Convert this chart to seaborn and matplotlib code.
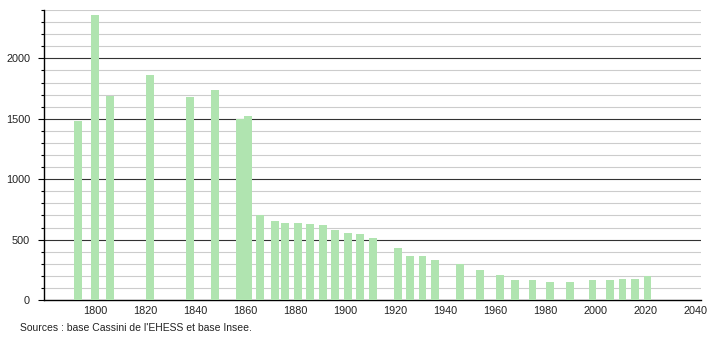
import matplotlib
matplotlib.use("Agg")
import matplotlib.pyplot as plt
import seaborn as sns
import numpy as np
import pandas as pd

years = [1793, 1800, 1806, 1822, 1838, 1848, 1858, 1861, 1866, 1872, 1876, 1881,
         1886, 1891, 1896, 1901, 1906, 1911, 1921, 1926, 1931, 1936, 1946, 1954,
         1962, 1968, 1975, 1982, 1990, 1999, 2006, 2011, 2016, 2021]
population = [1480, 2360, 1690, 1860, 1680, 1740, 1500, 1520, 700, 656, 640, 640,
              632, 623, 581, 556, 548, 515, 432, 365, 365, 332, 299, 249,
              208, 166, 166, 150, 150, 166, 166, 174, 174, 199]
x_ticks = [1800, 1820, 1840, 1860, 1880, 1900, 1920, 1940, 1960, 1980, 2000, 2020, 2040]
y_ticks = [0, 500, 1000, 1500, 2000]
source_text = "Sources : base Cassini de l'EHESS et base Insee."

df = pd.DataFrame({"year": years, "pop": population})

sns.set_style("white")
plt.rcParams["font.family"] = ["Liberation Sans", "DejaVu Sans"]

fig = plt.figure(figsize=(7.1, 3.4), dpi=100)
ax = fig.add_axes([44 / 710, 40 / 340, (701 - 44) / 710, 290 / 340])

min_gap = np.min(np.diff(sorted(years)))
sns.barplot(data=df, x="year", y="pop", native_scale=True, width=3.2 / min_gap,
            color="#b0e4b0", saturation=1, linewidth=0, errorbar=None, ax=ax, zorder=3)

ax.set_xlim(1779.6, 2042.4)
ax.set_ylim(0, 2400)
ax.set_xticks(x_ticks)
ax.set_xticklabels([str(t) for t in x_ticks])
ax.set_yticks(y_ticks)
ax.set_yticklabels([str(t) for t in y_ticks])
ax.set_yticks(np.arange(0, 2401, 100), minor=True)

ax.grid(False)
for v in np.arange(100, 2401, 100):
    if v % 500 == 0 and v < 2400:
        ax.axhline(v, color="#333333", lw=0.8, zorder=1)
    else:
        ax.axhline(v, color="#cccccc", lw=0.8, zorder=1)

ax.set_xlabel("")
ax.set_ylabel("")
for s in ["top", "right"]:
    ax.spines[s].set_visible(False)
ax.spines["left"].set_color("black")
ax.spines["bottom"].set_color("black")
ax.spines["left"].set_linewidth(1.0)
ax.spines["bottom"].set_linewidth(1.0)

ax.tick_params(axis="y", which="major", length=4, width=0.8, color="black",
               labelsize=7.8, pad=6, left=True)
ax.tick_params(axis="y", which="minor", length=2.5, width=0.8, color="black", left=True)
ax.tick_params(axis="x", which="both", length=0, labelsize=7.8, pad=4)
for lab in ax.get_xticklabels() + ax.get_yticklabels():
    lab.set_color("#222222")

fig.text(20 / 710, 1 - 328 / 340, source_text, fontsize=7.5, color="#222222",
         va="center", ha="left")

fig.savefig("out.png", dpi=100)
